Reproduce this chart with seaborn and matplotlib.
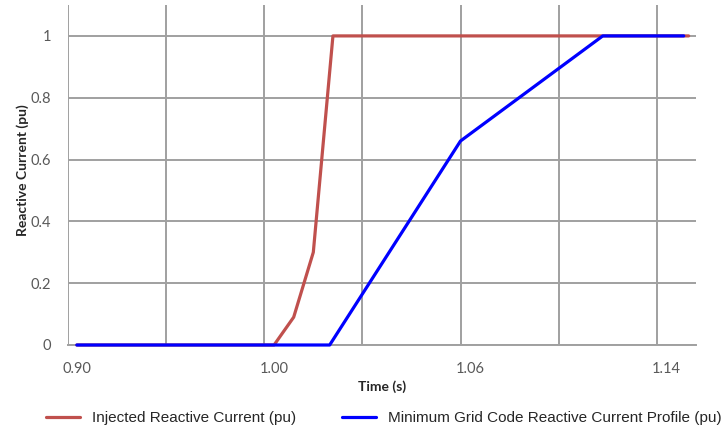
import numpy as np
import pandas as pd
import matplotlib
matplotlib.use("Agg")
import matplotlib.pyplot as plt
import seaborn as sns

# values
tick_times = [0.90, 1.00, 1.06, 1.14]
tick_labels = ["0.90", "1.00", "1.06", "1.14"]

injected_t = [0.900, 1.000, 1.006, 1.012, 1.018, 1.149]
injected_i = [0.0, 0.0, 0.09, 0.30, 1.0, 1.0]

grid_code_t = [0.900, 1.017, 1.057, 1.114, 1.147]
grid_code_i = [0.0, 0.0, 0.66, 1.0, 1.0]

y_ticks = [0, 0.2, 0.4, 0.6, 0.8, 1]
y_labels = ["0", "0.2", "0.4", "0.6", "0.8", "1"]

RED = "#c0504d"
BLUE = "#0000ff"
GRID = "#a0a0a0"


# Excel category axis: labels are evenly spaced but the times are not,
# so map time -> position (in gridline units) piecewise
label_pos = [0.09, 2.1, 4.1, 6.1]
t_anchor = [2 * tick_times[0] - tick_times[1]] + tick_times + [2 * tick_times[-1] - tick_times[-2]]
u_anchor = [label_pos[0] - (label_pos[1] - label_pos[0])] + label_pos + [label_pos[-1] + 2.0]


def fwd(t):
    return np.interp(t, t_anchor, u_anchor)


def inv(u):
    return np.interp(u, u_anchor, t_anchor)


def main():
    sns.set_style("white")
    plt.rcParams["font.family"] = ["Lato", "DejaVu Sans"]

    df = pd.concat([
        pd.DataFrame({"t": injected_t, "i": injected_i,
                      "serie": "Injected Reactive Current (pu)"}),
        pd.DataFrame({"t": grid_code_t, "i": grid_code_i,
                      "serie": "Minimum Grid Code Reactive Current Profile (pu)"}),
    ])

    fig = plt.figure(figsize=(7.25, 4.34), dpi=100)
    ax = fig.add_axes([68 / 725, 1 - 345 / 434, 628 / 725, 340 / 434])
    ax.set_xscale("function", functions=(fwd, inv))

    sns.lineplot(
        data=df,
        x="t",
        y="i",
        hue="serie",
        palette=[RED, BLUE],
        sort=False,
        linewidth=2.3,
        ax=ax,
        legend=True
    )
    for ln in ax.lines:
        ln.set_clip_on(False)
        ln.set_zorder(5)

    ax.set_xlim(inv(0), inv(6.4))
    ax.set_ylim(0, 1.1)

    ax.set_xticks(tick_times)
    ax.set_xticklabels(tick_labels)
    ax.set_xticks(inv(np.arange(0, 7)), minor=True)
    ax.set_yticks(y_ticks)
    ax.set_yticklabels(y_labels)

    ax.grid(False)
    ax.grid(True, axis="x", which="minor", color=GRID, lw=1.4)
    ax.grid(True, axis="y", which="major", color=GRID, lw=1.4)
    ax.tick_params(which="both", length=0)
    ax.tick_params(axis="x", pad=12, labelsize=10.5, labelcolor="#595959")
    ax.tick_params(axis="y", pad=12, labelsize=10.5, labelcolor="#595959")

    for s in ["top", "right", "left"]:
        ax.spines[s].set_visible(False)
    ax.spines["bottom"].set_color(GRID)
    ax.spines["bottom"].set_linewidth(1.4)

    ax.set_xlabel("Time (s)", fontsize=10, fontweight="bold")
    ax.set_ylabel("Reactive Current (pu)", fontsize=10, fontweight="bold")
    ax.xaxis.set_label_coords((382 - 68) / 628, -0.105)
    ax.yaxis.set_label_coords(-(68 - 29) / 628, (345 - 170) / 340)

    handles, labels = ax.get_legend_handles_labels()
    ax.legend_.remove()
    fig.legend(
        handles,
        labels,
        loc="center",
        bbox_to_anchor=(384 / 725, 1 - 418 / 434),
        ncol=2,
        frameon=False,
        handlelength=2.2,
        columnspacing=3.0,
        prop={"family": ["Liberation Sans Narrow", "Liberation Sans", "DejaVu Sans"], "size": 11}
    )

    fig.savefig("out.png", dpi=100)
    plt.close(fig)


if __name__ == "__main__":
    main()
